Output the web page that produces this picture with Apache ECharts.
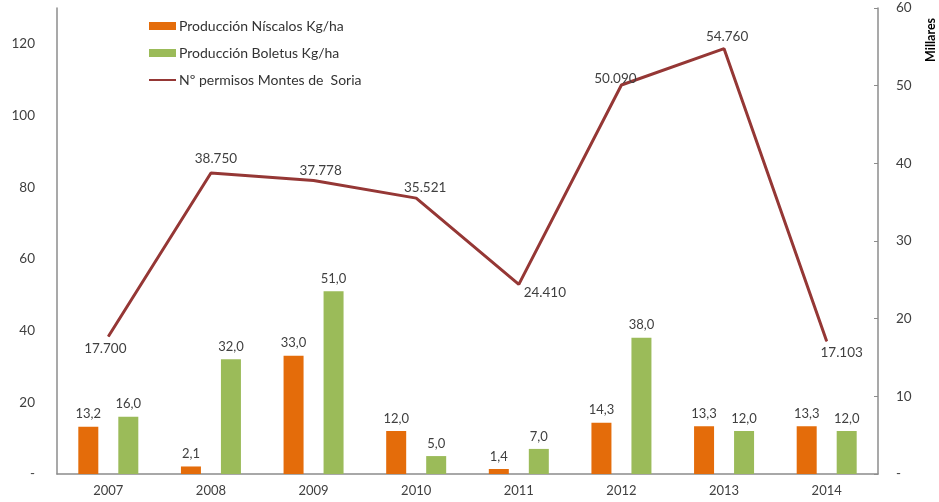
<!DOCTYPE html>
<html><head><meta charset="utf-8">
<script src="https://cdn.jsdelivr.net/npm/echarts@6/dist/echarts.min.js"></script>
<style>html,body{margin:0;padding:0;background:#fff}#c{width:939px;height:502px}</style>
</head><body><div id="c"></div>
<script>
var years = ['2007','2008','2009','2010','2011','2012','2013','2014'];
var niscalos = [13.2, 2.1, 33.0, 12.0, 1.4, 14.3, 13.3, 13.3];
var boletus = [16.0, 32.0, 51.0, 5.0, 7.0, 38.0, 12.0, 12.0];
var permisos = [17.700, 38.750, 37.778, 35.521, 24.410, 50.090, 54.760, 17.103];
var seriesNames = ['Producción Níscalos Kg/ha', 'Producción Boletus Kg/ha', 'Nº permisos Montes de  Soria'];
// label placement for line labels (style only)
var lineLabelPos = [
  {position:'bottom', offset:[-3,0]},
  {position:'top', offset:[5,-2]},
  {position:'top', offset:[7,3]},
  {position:'top', offset:[9,2]},
  {position:'bottom', offset:[26,-4]},
  {position:'top', offset:[-6,6]},
  {position:'top', offset:[3,0]},
  {position:'bottom', offset:[15,-1]}
];
var FONT = 'Lato';
var chart = echarts.init(document.getElementById('c'));
var fmtComma = function(p){ return p.value.toFixed(1).replace('.', ','); };
chart.setOption({
  animation: false,
  textStyle: {fontFamily: FONT},
  grid: {left: 57, right: 61, top: 8, bottom: 28},
  legend: {
    orient: 'vertical', left: 143, top: 14, itemWidth: 27, itemHeight: 8, itemGap: 13,
    textStyle: {fontFamily: FONT, fontSize: 14, color: '#333', padding: [0, 0, 0, -2]},
    data: [
      {name: seriesNames[0], icon: 'rect'},
      {name: seriesNames[1], icon: 'rect'},
      {name: seriesNames[2], itemStyle: {opacity: 0}}
    ]
  },
  xAxis: {
    type: 'category', data: years,
    axisLine: {lineStyle: {color: '#8c8c8c', width: 1.5}},
    axisTick: {show: false},
    axisLabel: {color: '#404040', fontSize: 13, margin: 10, fontFamily: FONT}
  },
  yAxis: [
    {
      type: 'value', min: 0, max: 130, interval: 20,
      axisLine: {show: true, lineStyle: {color: '#8c8c8c', width: 1.5}},
      axisTick: {show: false}, splitLine: {show: false},
      axisLabel: {color: '#404040', fontSize: 13.5, margin: 22, fontFamily: FONT,
        formatter: function(v){ return v === 0 ? '-' : (v > 120 ? '' : String(v)); }}
    },
    {
      type: 'value', min: 0, max: 60, interval: 10, position: 'right',
      axisLine: {show: true, lineStyle: {color: '#8c8c8c', width: 1.5}},
      axisTick: {show: true, inside: true, length: 4, lineStyle: {color: '#8c8c8c'}},
      splitLine: {show: false},
      axisLabel: {color: '#404040', fontSize: 13.5, margin: 18, fontFamily: FONT,
        formatter: function(v){ return v === 0 ? '-' : String(v); }}
    }
  ],
  graphic: [{
    type: 'text', x: 924, y: 62, rotation: Math.PI / 2,
    style: {text: 'Millares', font: 'bold 12.5px ' + FONT, fill: '#000'}
  }],
  series: [
    {
      name: seriesNames[0], type: 'bar', data: niscalos, barWidth: 20, barGap: '100%',
      itemStyle: {color: '#E46C0A'},
      label: {show: true, position: 'top', distance: 6, color: '#404040', fontSize: 13, fontFamily: FONT, formatter: fmtComma}
    },
    {
      name: seriesNames[1], type: 'bar', data: boletus, barWidth: 20, barGap: '100%',
      itemStyle: {color: '#9BBB59'},
      label: {show: true, position: 'top', distance: 6, color: '#404040', fontSize: 13, fontFamily: FONT, formatter: fmtComma}
    },
    {
      name: seriesNames[2], type: 'line', yAxisIndex: 1, symbol: 'circle', symbolSize: 1, showSymbol: true,
      lineStyle: {color: '#953735', width: 3}, itemStyle: {color: '#953735'},
      data: permisos.map(function(v, i){
        return {value: v, label: lineLabelPos[i]};
      }),
      label: {show: true, color: '#404040', fontSize: 13.5, fontFamily: FONT, distance: 5,
        formatter: function(p){ return p.value.toFixed(3); }}
    }
  ]
});
</script></body></html>
